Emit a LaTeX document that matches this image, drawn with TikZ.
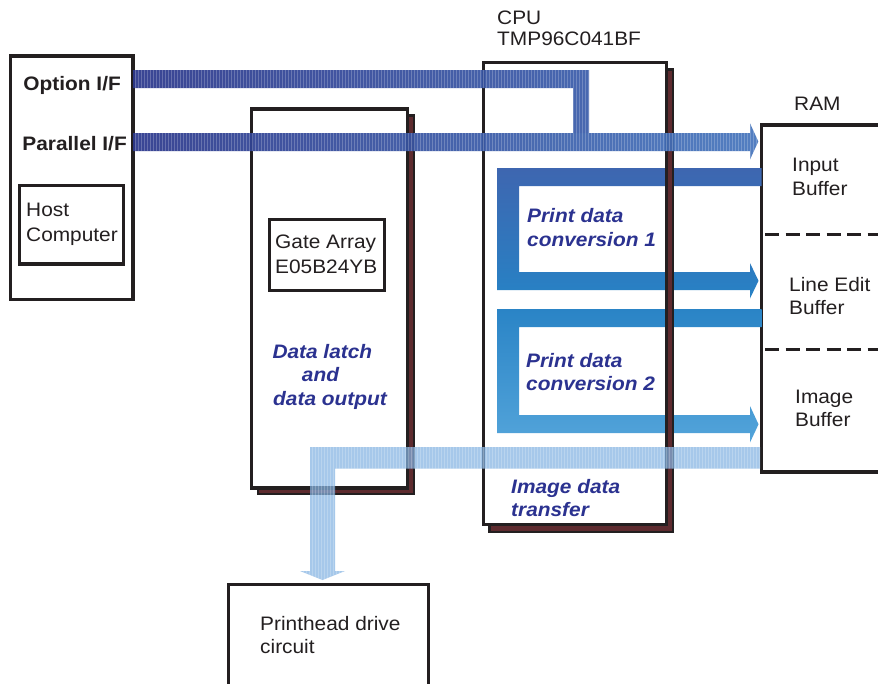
\documentclass[tikz,border=0pt]{standalone}
\usepackage{fontspec}
\setmainfont{Liberation Sans}[FakeStretch=1.07]
\usetikzlibrary{patterns}
\definecolor{txtgray}{HTML}{231F20}
\definecolor{lblblue}{HTML}{2B3290}
\definecolor{shadowbrown}{HTML}{5E2B2F}
\definecolor{navyA}{HTML}{2C388C}
\definecolor{navyB}{HTML}{3B5DAA}
\definecolor{navyC}{HTML}{4676BD}
\definecolor{convAtop}{HTML}{3E66B0}
\definecolor{convAbot}{HTML}{2782C5}
\definecolor{convBtop}{HTML}{2A84C6}
\definecolor{convBbot}{HTML}{53A4DA}
\definecolor{imgband}{HTML}{85B3E2}
\tikzset{
  boxline/.style={draw=txtgray, line width=3.4pt, fill=white},
  shadowbox/.style={draw=txtgray, line width=2.4pt, fill=shadowbrown},
  lbl/.style={font=\fontsize{19.5}{24}\selectfont, text=txtgray, inner sep=0pt, anchor=base west},
  boldlbl/.style={font=\bfseries\fontsize{19.5}{24}\selectfont, text=txtgray, inner sep=0pt, anchor=base east},
  bluelbl/.style={font=\bfseries\itshape\fontsize{19.5}{24}\selectfont, text=lblblue, inner sep=0pt, anchor=base west},
  stripes/.style={postaction={pattern=vertical lines, pattern color=white, opacity=0.22}},
}
\begin{document}
\begin{tikzpicture}[x=1pt,y=-1pt]
\clip (0,0) rectangle (878,683);
\fill[white] (0,0) rectangle (878,683);

% ---- boxes ----
% host
\draw[boxline] (10.5,56) rectangle (133,299.5);
\coordinate (hostNE) at (133,56);
\draw[boxline, line width=3.2pt] (19.5,185.5) rectangle (123.3,264);
% gate array
\draw[shadowbox] (257.7,115.5) rectangle (414,494);
\draw[boxline] (251.7,109) rectangle (407.7,488);
\draw[boxline, line width=3pt] (269.3,219) rectangle (384,290);
% CPU
\draw[shadowbox] (489.3,69.3) rectangle (672.7,531.7);
\draw[boxline] (483.3,62.3) rectangle (666.7,524.7);
% RAM
\draw[boxline] (761.7,125) rectangle (900,472);
\draw[txtgray, line width=3.2pt, dash pattern=on 14pt off 6.5pt] (765,234.3) -- (878,234.3);
\draw[txtgray, line width=3.2pt, dash pattern=on 14pt off 6.5pt] (765,349.3) -- (878,349.3);
% printhead
\draw[boxline] (228.7,584.3) rectangle (428.7,700);

% ---- named nodes (labels) ----
\node[boldlbl] (optlbl) at (121,90) {Option I/F};
\node[boldlbl] (parlbl) at (127,150) {Parallel I/F};
\node[lbl] (host1) at (26,216) {Host};
\node[lbl] (host2) at (26,241) {Computer};
\node[lbl] (ga1) at (275,248.3) {Gate Array};
\node[lbl] (ga2) at (275,273.3) {E05B24YB};
\node[lbl] (cpu1) at (497,24.3) {CPU};
\node[lbl] (cpu2) at (497,45.3) {TMP96C041BF};
\node[lbl] (ram0) at (794,110.5) {RAM};
\node[lbl] (in1) at (792,171) {Input};
\node[lbl] (in2) at (792,195) {Buffer};
\node[lbl] (le1) at (789,291) {Line Edit};
\node[lbl] (le2) at (789,314.5) {Buffer};
\node[lbl] (im1) at (795,403) {Image};
\node[lbl] (im2) at (795,426.5) {Buffer};
\node[lbl] (ph1) at (260,630) {Printhead drive};
\node[lbl] (ph2) at (260,653) {circuit};

% ---- conversion bands ----
\path[top color=convAtop, bottom color=convAbot]
  (761.7,168) -- (497,168) -- (497,290) -- (750,290) -- (750,298.5)
  -- (758.5,280.8) -- (750,263) -- (750,272) -- (519,272) -- (519,186)
  -- (761.7,186) -- cycle;
\path[top color=convBtop, bottom color=convBbot]
  (761.7,309) -- (497,309) -- (497,433) -- (750,433) -- (750,442.5)
  -- (758.5,424.3) -- (750,406) -- (750,415) -- (519,415) -- (519,327)
  -- (761.7,327) -- cycle;

% redraw CPU right edge over conversion bands
\begin{scope}
\clip (665,150) rectangle (680,445);
\draw[shadowbox] (489.3,69.3) rectangle (672.7,531.7);
\draw[txtgray, line width=3.4pt] (483.3,62.3) rectangle (666.7,524.7);
\end{scope}

% ---- interface bands ----
\path[left color=navyA, right color=navyB, opacity=0.93, stripes]
  (133,70) -- (589,70) -- (589,133) -- (573,133) -- (573,88) -- (133,88) -- cycle;
\path[left color=navyA, right color=navyC, opacity=0.93, stripes]
  (133,133) -- (750,133) -- (750,123.3) -- (758.3,141.5) -- (750,159.5)
  -- (750,151) -- (133,151) -- cycle;

% ---- image data band ----
\path[fill=imgband, opacity=0.72, stripes]
  (760,447) -- (310,447) -- (310,571) -- (300,571) -- (322.5,580)
  -- (345,571) -- (335,571) -- (335,468.5) -- (760,468.5) -- cycle;

% ---- blue italic labels ----
\node[bluelbl] (dl1) at (272.3,358.3) {Data latch};
\node[bluelbl] (dl2) at (301.7,381.5) {and};
\node[bluelbl] (dl3) at (273,405) {data output};
\node[bluelbl] (pc1a) at (527,222) {Print data};
\node[bluelbl] (pc1b) at (527,246) {conversion 1};
\node[bluelbl] (pc2a) at (526,367) {Print data};
\node[bluelbl] (pc2b) at (526,390.5) {conversion 2};
\node[bluelbl] (idt1) at (511,493) {Image data};
\node[bluelbl] (idt2) at (511,516) {transfer};
\end{tikzpicture}
\end{document}
